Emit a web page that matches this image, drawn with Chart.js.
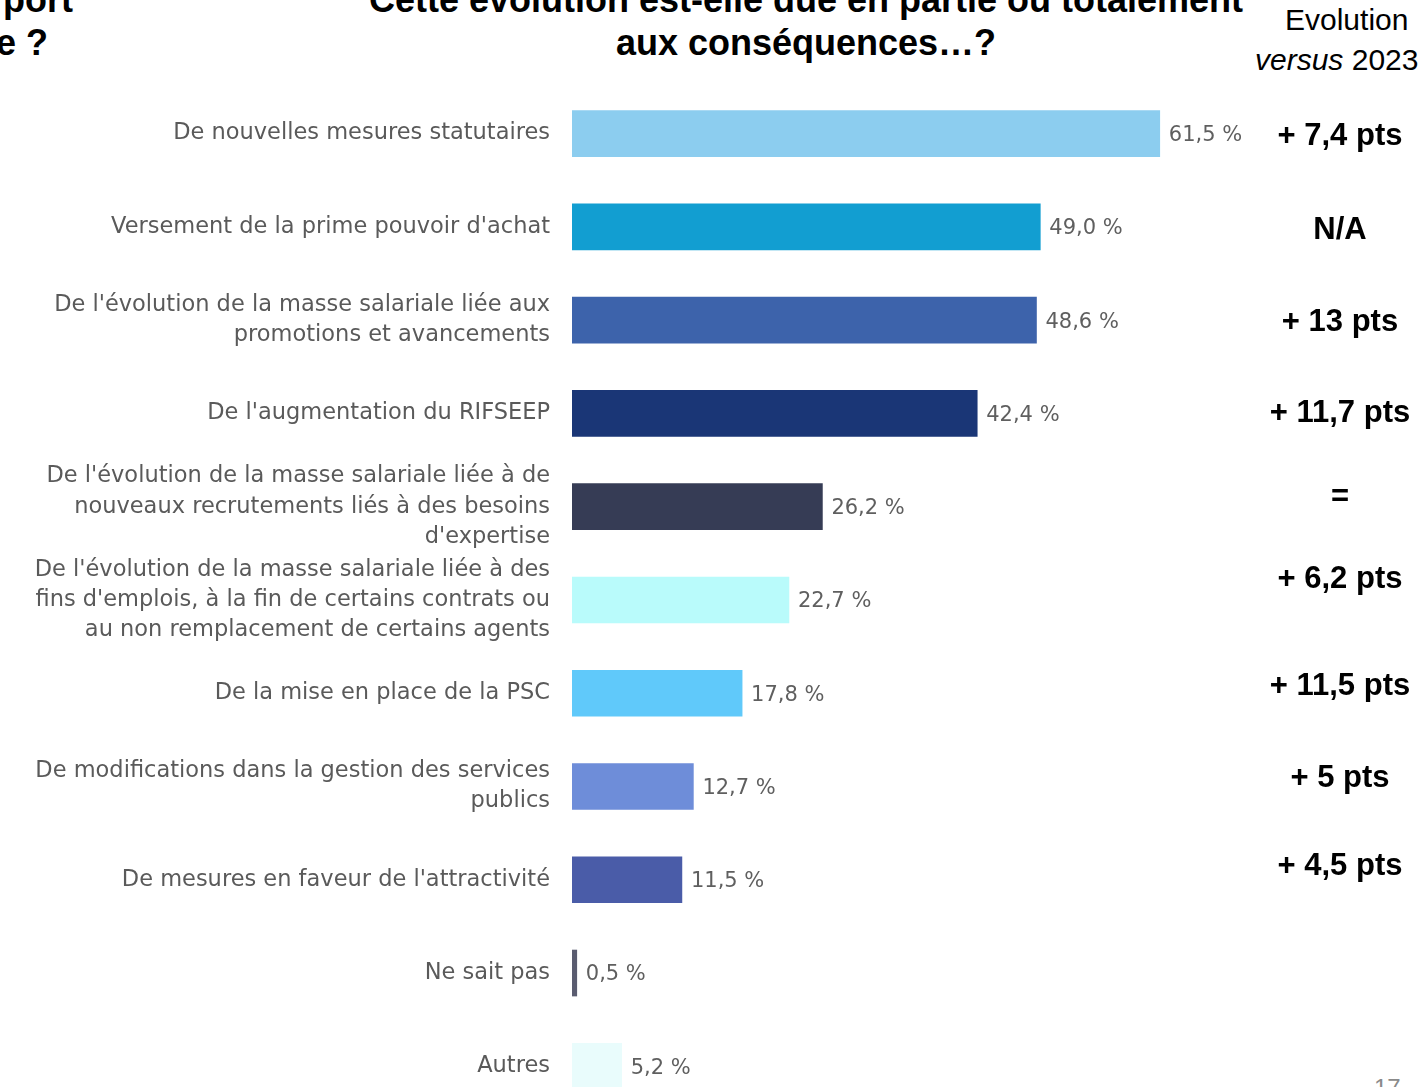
<!DOCTYPE html>
<html lang="fr">
<head>
<meta charset="utf-8">
<script src="https://cdn.jsdelivr.net/npm/chart.js@4.4.1/dist/chart.umd.min.js"></script>
<style>
  html, body { margin: 0; padding: 0; background: #fff; overflow: hidden; }
  body { width: 1426px; height: 1087px; position: relative; }
  .head { position: absolute; font-family: "Liberation Sans", Arial, sans-serif; font-weight: bold; color: #000;
          white-space: nowrap; font-size: 36px; line-height: 43px; }
  #chartBox { position: absolute; left: 0; top: 0; width: 1426px; height: 1142px; }
  .evo { position: absolute; font-family: "Liberation Sans", Arial, sans-serif; color: #000; font-size: 30px; white-space: nowrap; }
  .page { position: absolute; font-family: "Liberation Sans", Arial, sans-serif; color: #8a8a8a; font-size: 24px; }
</style>
</head>
<body>
  <div class="head" style="right:1353px; top:-22px; text-align:right;">port<br>&nbsp;</div>
  <div class="head" style="left:-4px; top:-22px;">&nbsp;<br>e ?</div>
  <div class="head" style="left:0; width:1612px; top:-22px; text-align:center;">
    Cette évolution est-elle due en partie ou totalement<br>aux conséquences…?
  </div>
  <div class="evo" style="left:1285px; top:3px;">Evolution</div>
  <div class="evo" style="left:1255px; top:43px;"><i>versus</i> 2023</div>
  <div class="page" style="left:1374px; top:1074px;">17</div>

  <div id="chartBox"><canvas id="causesChart"></canvas></div>

<script>
  // Raisons de l'évolution et part des répondants (%)
  const causes = [
    "De nouvelles mesures statutaires",
    "Versement de la prime pouvoir d'achat",
    ["De l'évolution de la masse salariale liée aux", "promotions et avancements"],
    "De l'augmentation du RIFSEEP",
    ["De l'évolution de la masse salariale liée à de", "nouveaux recrutements liés à des besoins", "d'expertise"],
    ["De l'évolution de la masse salariale liée à des", "fins d'emplois, à la fin de certains contrats ou", "au non remplacement de certains agents"],
    "De la mise en place de la PSC",
    ["De modifications dans la gestion des services", "publics"],
    "De mesures en faveur de l'attractivité",
    "Ne sait pas",
    "Autres"
  ];
  const shares = [61.5, 49.0, 48.6, 42.4, 26.2, 22.7, 17.8, 12.7, 11.5, 0.5, 5.2];
  const evolution2023 = ["+ 7,4 pts", "N/A", "+ 13 pts", "+ 11,7 pts", "=", "+ 6,2 pts", "+ 11,5 pts", "+ 5 pts", "+ 4,5 pts"];

  const barColors = [
    "#8ccdef", "#129ed1", "#3d63ab", "#1a3676", "#363c55",
    "#b9fbfb", "#60c9fa", "#6e8dd9", "#4a5ca8", "#5a5c70", "#e9fcfc"
  ];
  // petit décalage vertical des libellés d'évolution par rapport aux barres
  const evoNudge = [3, 4, 2, 0, -9, -21, -7, -8, -13];

  const fmtPct = v => v.toFixed(1).replace(".", ",") + " %";

  const valueLabels = {
    id: "valueLabels",
    afterDatasetsDraw(chart) {
      const ctx = chart.ctx;
      const meta = chart.getDatasetMeta(0);
      ctx.save();
      ctx.font = '21px "DejaVu Sans", sans-serif';
      ctx.fillStyle = "#5f5f5f";
      ctx.textAlign = "left";
      ctx.textBaseline = "middle";
      meta.data.forEach((bar, i) => {
        ctx.fillText(fmtPct(shares[i]), bar.x + 9, bar.y + 2);
      });
      ctx.restore();
    }
  };

  const evoColumn = {
    id: "evoColumn",
    afterDraw(chart) {
      const ctx = chart.ctx;
      const y = chart.scales.y;
      ctx.save();
      ctx.font = 'bold 31px "Liberation Sans", Arial, sans-serif';
      ctx.fillStyle = "#000";
      ctx.textAlign = "center";
      ctx.textBaseline = "middle";
      evolution2023.forEach((txt, i) => {
        ctx.fillText(txt, 1340, y.getPixelForValue(i) + evoNudge[i]);
      });
      ctx.restore();
    }
  };

  new Chart(document.getElementById("causesChart"), {
    type: "bar",
    data: {
      labels: causes,
      datasets: [{
        data: shares,
        backgroundColor: barColors,
        borderWidth: 0,
        barThickness: 46
      }]
    },
    options: {
      indexAxis: "y",
      responsive: true,
      maintainAspectRatio: false,
      animation: false,
      layout: { padding: { top: 87, right: 185, bottom: 0, left: 0 } },
      plugins: {
        legend: { display: false },
        tooltip: { enabled: false }
      },
      scales: {
        x: {
          display: false,
          min: 0,
          max: 70
        },
        y: {
          grid: { display: false },
          border: { display: false },
          afterFit(scale) { scale.width = 572; },
          ticks: {
            padding: 14,
            color: "#5a5a5a",
            font: { family: '"DejaVu Sans", sans-serif', size: 22.5, lineHeight: 1.34 }
          }
        }
      }
    },
    plugins: [valueLabels, evoColumn]
  });
</script>
</body>
</html>
